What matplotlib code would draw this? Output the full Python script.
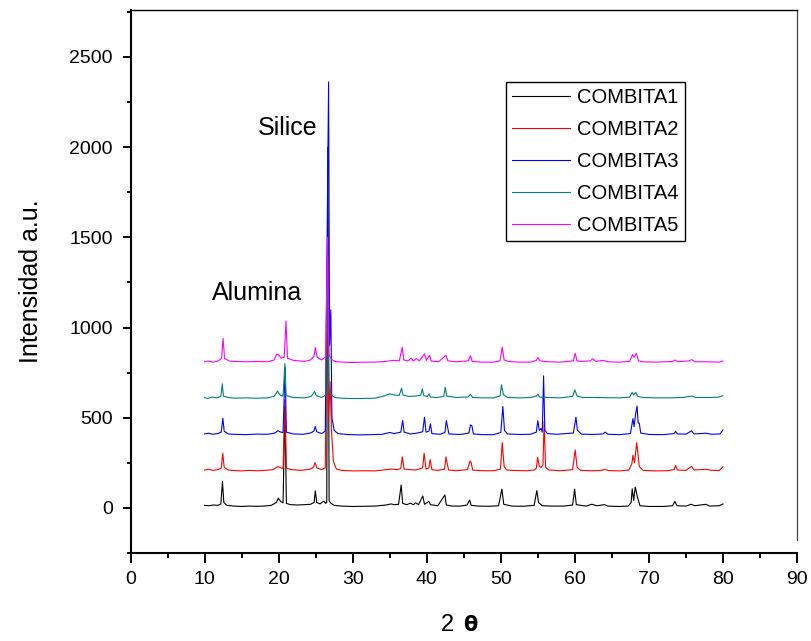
import matplotlib
matplotlib.use("Agg")
import matplotlib.pyplot as plt
from matplotlib.ticker import MultipleLocator

plt.rcParams['font.family'] = ['Liberation Sans', 'DejaVu Sans']

series_names = ["COMBITA1", "COMBITA2", "COMBITA3", "COMBITA4", "COMBITA5"]
series_colors = ["#000000", "#FF0000", "#0000FF", "#008080", "#FF00FF"]

# (2theta, intensity) vertices
combita1 = [(10.0, 14), (10.6, 12), (11.2, 16), (11.8, 14), (12.2, 22), (12.42, 146), (12.6, 30), (13.0, 14),
            (14, 10), (15, 8), (16, 10), (17, 9), (18, 10), (19, 14), (19.7, 30), (19.95, 54), (20.3, 35),
            (20.6, 28), (20.85, 560), (21.05, 25), (21.6, 18), (22.5, 16), (23.5, 18), (24.3, 20), (24.8, 30),
            (24.95, 94), (25.15, 30), (25.6, 22), (26.1, 38), (26.35, 25), (26.5, 30), (26.65, 2000), (26.82, 40),
            (27.0, 28), (27.5, 14), (28.5, 10), (30, 8), (31.5, 9), (33, 10), (34.5, 16), (35.2, 22), (35.6, 18),
            (36.2, 20), (36.55, 127), (36.75, 25), (37.3, 18), (37.8, 26), (38.2, 18), (38.5, 28), (38.9, 18),
            (39.47, 66), (39.7, 20), (40.3, 36), (40.5, 18), (41.5, 12), (42.45, 72), (42.65, 16), (43.5, 10),
            (44.5, 10), (45.45, 16), (45.8, 44), (46.0, 14), (47, 10), (48.5, 9), (49.7, 12), (50.15, 104),
            (50.4, 20), (51.5, 10), (53, 9), (54.5, 14), (54.87, 96), (55.1, 30), (55.6, 12), (57, 10), (58.5, 10),
            (59.7, 16), (59.97, 104), (60.2, 18), (61.5, 10), (62.3, 20), (63, 12), (64, 18), (64.5, 10), (66, 8),
            (67.2, 10), (67.6, 30), (67.75, 106), (67.95, 40), (68.15, 115), (68.3, 90), (68.45, 60), (68.8, 12),
            (70, 8), (72, 8), (73.2, 12), (73.5, 36), (73.8, 12), (75, 10), (75.7, 20), (76.2, 12), (77.7, 20),
            (78.2, 10), (79.5, 12), (80.0, 22)]

combita2 = [(10.0, 210), (10.5, 214), (11.2, 208), (11.8, 212), (12.25, 220), (12.45, 303), (12.65, 225),
            (13.2, 210), (14, 207), (15, 205), (16, 208), (17, 206), (18, 207), (19.2, 212), (19.7, 225),
            (19.95, 229), (20.3, 222), (20.6, 218), (20.85, 600), (21.05, 220), (21.8, 212), (23, 208), (24.2, 214),
            (24.7, 225), (24.92, 251), (25.15, 222), (25.8, 212), (26.3, 222), (26.6, 1300), (26.75, 500),
            (26.95, 700), (27.15, 420), (27.4, 260), (27.8, 215), (28.5, 208), (30, 205), (31.5, 206), (33, 205),
            (34.5, 212), (35.3, 215), (36, 212), (36.5, 218), (36.7, 283), (36.95, 215), (37.8, 212), (38.5, 210),
            (39.45, 222), (39.65, 303), (39.9, 215), (40.3, 222), (40.45, 268), (40.7, 212), (41.5, 208),
            (42.4, 215), (42.6, 283), (42.75, 250), (42.95, 210), (44, 206), (45.5, 212), (45.85, 260),
            (46.0, 252), (46.2, 210), (47.5, 206), (49, 206), (49.95, 215), (50.2, 362), (50.45, 230), (50.8, 210),
            (52, 207), (53.5, 206), (54.5, 210), (54.8, 220), (54.97, 281), (55.2, 230), (55.45, 225), (55.7, 240),
            (55.85, 478), (56.05, 225), (56.5, 210), (58, 206), (59.7, 212), (60.05, 321), (60.3, 225),
            (60.8, 208), (62, 206), (63.5, 207), (64, 214), (64.5, 207), (66, 205), (67.3, 210), (67.7, 245),
            (67.85, 292), (68.05, 250), (68.2, 300), (68.35, 362), (68.55, 290), (68.7, 230), (69.2, 208),
            (71, 205), (72.5, 206), (73.4, 212), (73.6, 235), (73.85, 210), (75, 208), (75.75, 230), (76.1, 210),
            (77.7, 214), (78.5, 208), (79.5, 207), (80.0, 228)]

combita3 = [(10.0, 410), (10.5, 414), (11.1, 408), (11.8, 412), (12.25, 420), (12.47, 497), (12.65, 425),
            (13.2, 410), (14, 408), (15.5, 406), (17, 409), (18.5, 408), (19.5, 415), (19.9, 428), (20.3, 420),
            (20.6, 418), (20.88, 780), (21.05, 420), (22, 410), (23.3, 408), (24.3, 415), (24.75, 425),
            (24.95, 451), (25.15, 422), (25.8, 412), (26.3, 425), (26.75, 2361), (26.88, 900), (27.05, 1097),
            (27.2, 500), (27.5, 430), (28, 412), (29.5, 406), (31, 405), (32.5, 406), (34, 408), (35, 418),
            (35.6, 412), (36.5, 420), (36.75, 484), (36.95, 420), (37.8, 410), (38.6, 414), (39.45, 422),
            (39.7, 503), (39.9, 420), (40.3, 425), (40.5, 466), (40.7, 412), (41.8, 408), (42.45, 418),
            (42.65, 484), (42.8, 450), (43.0, 410), (44.5, 407), (45.7, 415), (45.9, 460), (46.1, 455),
            (46.3, 410), (47.5, 406), (49, 406), (50.0, 418), (50.28, 562), (50.5, 430), (50.9, 410), (52.5, 407),
            (54, 408), (54.8, 420), (55.0, 484), (55.2, 430), (55.45, 440), (55.6, 420), (55.78, 732),
            (55.95, 430), (56.3, 412), (57.5, 408), (59.8, 415), (60.15, 503), (60.35, 430), (60.9, 409),
            (62.5, 407), (63.8, 410), (64.1, 420), (64.5, 408), (66, 406), (67.5, 412), (67.85, 495), (68.0, 450),
            (68.2, 518), (68.4, 565), (68.55, 470), (68.7, 470), (68.9, 415), (70, 407), (72, 406), (73.4, 412),
            (73.6, 424), (73.85, 410), (75, 409), (75.75, 427), (76.1, 410), (77.7, 414), (78.5, 408),
            (79.6, 410), (80.0, 432)]

combita4 = [(10.0, 612), (10.4, 606), (11.0, 614), (11.7, 610), (12.2, 618), (12.4, 687), (12.55, 620),
            (13.2, 612), (14, 608), (15.5, 610), (17, 608), (18.5, 610), (19.4, 618), (19.85, 648), (20.2, 625),
            (20.6, 620), (20.85, 800), (21.0, 622), (22, 612), (23.5, 610), (24.4, 618), (24.85, 645), (25.1, 622),
            (25.8, 612), (26.35, 625), (26.62, 1400), (26.8, 650), (27.1, 625), (27.6, 612), (28.5, 608),
            (30, 606), (31.5, 607), (33, 608), (34.2, 620), (35.0, 632), (35.6, 626), (36.3, 624), (36.6, 663),
            (36.8, 625), (37.6, 618), (38.5, 620), (39.2, 625), (39.4, 660), (39.6, 622), (40.1, 618),
            (40.3, 632), (40.5, 614), (41.5, 612), (42.3, 618), (42.5, 669), (42.7, 620), (44, 612), (45.6, 615),
            (45.9, 630), (46.2, 612), (47.5, 610), (49, 610), (49.9, 620), (50.1, 682), (50.35, 628), (50.9, 612),
            (52.5, 610), (54, 612), (54.8, 620), (55.0, 630), (55.3, 614), (56.5, 612), (58, 610), (59.7, 618),
            (60.0, 654), (60.3, 620), (61, 612), (62.5, 612), (64, 611), (66, 610), (67.4, 614), (67.75, 641),
            (67.95, 625), (68.2, 641), (68.5, 618), (69.2, 612), (71, 610), (73, 610), (74.5, 612), (75.8, 620),
            (76.3, 612), (78, 612), (79.4, 614), (80.0, 622)]

combita5 = [(10.0, 810), (10.5, 814), (11.2, 808), (11.9, 816), (12.3, 830), (12.5, 940), (12.7, 830),
            (13.3, 815), (14, 812), (15.5, 810), (17, 812), (18.5, 810), (19.4, 820), (19.75, 853), (20.0, 848),
            (20.35, 830), (20.75, 835), (21.0, 1036), (21.2, 830), (22, 818), (23.5, 812), (24.3, 820),
            (24.78, 840), (24.97, 889), (25.2, 835), (25.8, 820), (26.35, 838), (26.6, 1500), (26.8, 850),
            (27.1, 825), (27.6, 812), (28.5, 808), (30, 806), (31.5, 808), (33, 808), (34.5, 812), (35.5, 818),
            (36.3, 815), (36.7, 891), (36.9, 820), (37.5, 815), (37.9, 830), (38.2, 814), (38.6, 828), (39.0, 815),
            (39.7, 854), (39.95, 818), (40.4, 846), (40.6, 814), (41.6, 810), (42.6, 846), (42.85, 815), (44, 810),
            (45.6, 815), (45.9, 844), (46.15, 812), (47.5, 808), (49, 808), (49.9, 815), (50.2, 891), (50.45, 820),
            (51, 812), (52.5, 808), (54, 808), (54.8, 818), (55.0, 833), (55.3, 815), (56.5, 810), (58, 808),
            (59.8, 815), (60.05, 857), (60.3, 815), (61, 812), (62.1, 815), (62.4, 827), (62.8, 812), (63.9, 818),
            (64.4, 810), (66, 808), (67.4, 812), (67.8, 850), (68.0, 835), (68.3, 857), (68.6, 815), (69.2, 810),
            (71, 808), (73.2, 812), (73.5, 820), (73.9, 810), (75.4, 815), (75.8, 822), (76.2, 810), (78, 810),
            (79.5, 808), (80.0, 814)]

all_series = [combita1, combita2, combita3, combita4, combita5]

fig = plt.figure(figsize=(8.11, 6.41), dpi=100)
ax = fig.add_axes([130.5 / 811, 1 - 553 / 641, (797 - 130.5) / 811, (553 - 10) / 641])

for data, name, col in zip(all_series, series_names, series_colors):
    xs = [p[0] for p in data]
    ys = [p[1] for p in data]
    ax.plot(xs, ys, color=col, lw=0.8, label=name)

ax.set_xlim(0, 90)
ax.set_ylim(-250, 2760)

ax.xaxis.set_major_locator(MultipleLocator(10))
ax.xaxis.set_minor_locator(MultipleLocator(5))
ax.yaxis.set_major_locator(MultipleLocator(500))
ax.yaxis.set_minor_locator(MultipleLocator(250))

ax.tick_params(axis='x', which='major', direction='out', length=7.2, width=1.4, labelsize=14, pad=6,
               top=False)
ax.tick_params(axis='x', which='minor', direction='out', length=3.6, width=1.4, top=False)
ax.tick_params(axis='y', which='major', direction='out', length=5.8, width=1.4, labelsize=14, pad=7,
               right=False)
ax.tick_params(axis='y', which='minor', direction='out', length=3.0, width=1.4, right=False)

for s in ['left', 'bottom']:
    ax.spines[s].set_linewidth(1.5)
    ax.spines[s].set_color('black')
ax.spines['top'].set_linewidth(1.0)
ax.spines['right'].set_linewidth(0.9)
ax.spines['right'].set_color('#444444')
ax.spines['right'].set_bounds(-177, 2760)

ax.set_ylabel("Intensidad a.u.", fontsize=18)
ax.yaxis.set_label_coords(-0.132, 0.5)

ax.text((447 - 130.5) / 666.5, (553 - 625) / 543, "2", transform=ax.transAxes, fontsize=17,
        ha='center', va='center')
ax.text((470 - 130.5) / 666.5, (553 - 625) / 543, "θ", transform=ax.transAxes, fontsize=15,
        ha='center', va='center', family=['DejaVu Sans'], fontweight='bold')

ax.text((258 - 130.5) / 666.5, (553 - 128) / 543, "Silice", transform=ax.transAxes, fontsize=18,
        ha='left', va='center')
ax.text((212 - 130.5) / 666.5, (553 - 293) / 543, "Alumina", transform=ax.transAxes, fontsize=18,
        ha='left', va='center')

leg = ax.legend(loc='upper left', bbox_to_anchor=((506 - 130.5) / 666.5, (553 - 82) / 543),
                borderaxespad=0, fontsize=14.5, frameon=True, fancybox=False, framealpha=1,
                edgecolor='black', handlelength=2.85, handletextpad=0.35, borderpad=0.32,
                labelspacing=0.64)
leg.get_frame().set_linewidth(1.0)

fig.savefig("out.png", dpi=100)
